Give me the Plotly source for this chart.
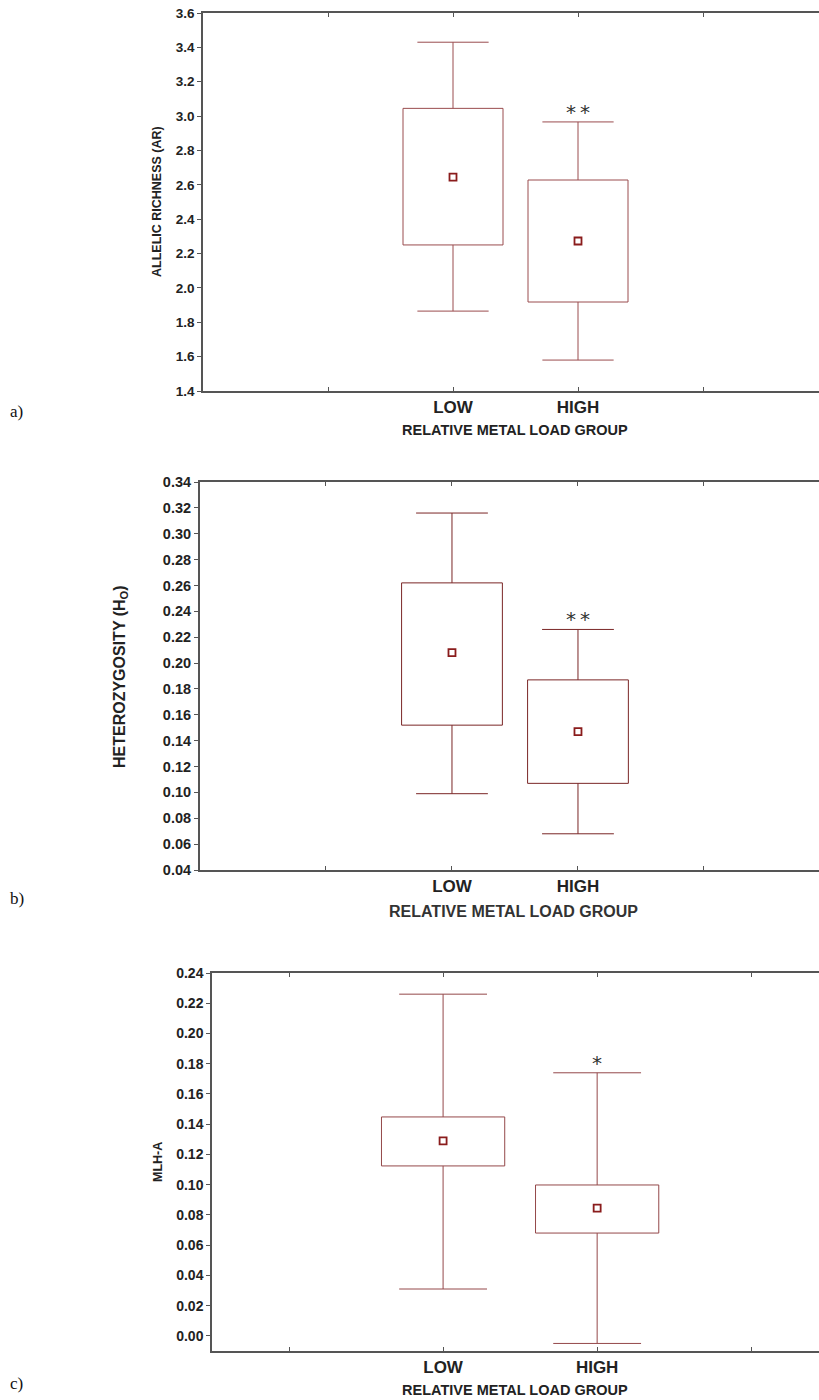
import plotly.graph_objects as go

# ---------------- data ----------------
groups = ["LOW", "HIGH"]
group_pos = [1, 2]

# panel a: allelic richness
ar_lower = [1.865, 1.580]
ar_q1 = [2.250, 1.918]
ar_mean = [2.645, 2.273]
ar_q3 = [3.045, 2.628]
ar_upper = [3.430, 2.966]

# panel b: heterozygosity
ho_lower = [0.099, 0.068]
ho_q1 = [0.152, 0.107]
ho_mean = [0.208, 0.147]
ho_q3 = [0.262, 0.187]
ho_upper = [0.316, 0.226]

# panel c: MLH-A
mlh_lower = [0.031, -0.005]
mlh_q1 = [0.1124, 0.068]
mlh_mean = [0.129, 0.0845]
mlh_q3 = [0.1448, 0.0998]
mlh_upper = [0.226, 0.174]

sig_a = ["", "*\u2009*"]
sig_b = ["", "*\u2009*"]
sig_c = ["", "*"]

ar_ticks = [1.4, 1.6, 1.8, 2.0, 2.2, 2.4, 2.6, 2.8, 3.0, 3.2, 3.4, 3.6]
ho_ticks = [0.04, 0.06, 0.08, 0.10, 0.12, 0.14, 0.16, 0.18, 0.20, 0.22, 0.24,
            0.26, 0.28, 0.30, 0.32, 0.34]
mlh_ticks = [0.00, 0.02, 0.04, 0.06, 0.08, 0.10, 0.12, 0.14, 0.16, 0.18, 0.20,
             0.22, 0.24]

W, H = 819, 1400
BOX_A = "#9a4c4e"
BOX_B = "#7a2626"
BOX_C = "#94484a"
MEAN_C = "#8a1c1c"
AXIS_C = "#555555"
FONT = "Liberation Sans, Arial, sans-serif"
BOX_W = 0.8
CAP_HALF = 0.285

fig = go.Figure()

panels = [
    dict(lo=ar_lower, q1=ar_q1, m=ar_mean, q3=ar_q3, up=ar_upper, sig=sig_a,
         col=BOX_A, xa="x", ya="y"),
    dict(lo=ho_lower, q1=ho_q1, m=ho_mean, q3=ho_q3, up=ho_upper, sig=sig_b,
         col=BOX_B, xa="x2", ya="y2"),
    dict(lo=mlh_lower, q1=mlh_q1, m=mlh_mean, q3=mlh_q3, up=mlh_upper, sig=sig_c,
         col=BOX_C, xa="x3", ya="y3"),
]

for p in panels:
    # whiskers + caps
    wx, wy = [], []
    for g, lo, q1, q3, up in zip(group_pos, p["lo"], p["q1"], p["q3"], p["up"]):
        wx += [g, g, None, g - CAP_HALF, g + CAP_HALF, None,
               g, g, None, g - CAP_HALF, g + CAP_HALF, None]
        wy += [q1, lo, None, lo, lo, None, q3, up, None, up, up, None]
    fig.add_trace(go.Scatter(
        x=wx, y=wy, mode="lines", line=dict(color=p["col"], width=1),
        xaxis=p["xa"], yaxis=p["ya"], showlegend=False, hoverinfo="skip"))
    # boxes
    fig.add_trace(go.Bar(
        x=group_pos, y=[b - a for a, b in zip(p["q1"], p["q3"])], base=p["q1"],
        width=BOX_W, marker=dict(color="white", line=dict(color=p["col"], width=1)),
        xaxis=p["xa"], yaxis=p["ya"], showlegend=False, hoverinfo="skip"))
    # means
    fig.add_trace(go.Scatter(
        x=group_pos, y=p["m"], mode="markers",
        marker=dict(symbol="square", size=7, color="white",
                    line=dict(color=MEAN_C, width=1.8)),
        xaxis=p["xa"], yaxis=p["ya"], showlegend=False, hoverinfo="skip"))
    for xv, yv, s in zip(group_pos, p["up"], p["sig"]):
        if s:
            fig.add_annotation(x=xv, y=yv, xref=p["xa"], yref=p["ya"], text=s,
                               showarrow=False, yanchor="bottom", yshift=-4,
                               font=dict(family="DejaVu Sans", size=20, color="#333333"))


def px_y(v):
    return 1 - v / H


def xaxis(dom_left, rng, tickfont_size, linew, anchor):
    return dict(domain=[dom_left / W, 1], range=rng, showgrid=False, zeroline=False,
                showline=True, linecolor=AXIS_C, linewidth=linew, mirror="ticks",
                ticks="inside", ticklen=4, tickcolor=AXIS_C, tickwidth=1,
                tickvals=group_pos, ticktext=["<b>" + g + "</b>" for g in groups],
                minor=dict(ticks="inside", tick0=0, dtick=1, ticklen=4,
                           tickcolor=AXIS_C, tickwidth=1, showgrid=False),
                tickfont=dict(family=FONT, size=tickfont_size, color="#222222"),
                anchor=anchor)


def yaxis(top, bottom, rng, vals, fmt, size, linew, anchor):
    return dict(domain=[px_y(bottom), px_y(top)], range=rng, showgrid=False,
                zeroline=False, showline=True, linecolor=AXIS_C, linewidth=linew,
                ticks="outside", ticklen=4, tickcolor=AXIS_C, tickwidth=1,
                tickvals=vals, ticktext=["<b>" + format(v, fmt) + "</b>" for v in vals],
                tickfont=dict(family=FONT, size=size, color="#222222"), anchor=anchor)


fig.update_layout(
    width=W, height=H, margin=dict(l=0, r=0, t=0, b=0, autoexpand=False),
    paper_bgcolor="white", plot_bgcolor="white", barmode="overlay",
    xaxis=xaxis(203, [-1, 3.928], 17, 1.5, "y"),
    yaxis=yaxis(13, 391, [1.4, 3.6], ar_ticks, ".1f", 13.5, 1.5, "x"),
    xaxis2=xaxis(200, [-1, 3.913], 17, 1.5, "y2"),
    yaxis2=yaxis(482, 870, [0.04, 0.34], ho_ticks, ".2f", 14.5, 2, "x2"),
    xaxis3=xaxis(212, [-0.5, 3.44], 17, 1.5, "y3"),
    yaxis3=yaxis(973, 1351, [-0.01, 0.24], mlh_ticks, ".2f", 14, 1.5, "x3"),
)

# axis titles
titles = [
    ("<b>RELATIVE METAL LOAD GROUP</b>", 515, 430, 14.5, "#222222", 0),
    ("<b>RELATIVE METAL LOAD GROUP</b>", 513, 911, 16, "#333333", 0),
    ("<b>RELATIVE METAL LOAD GROUP</b>", 515, 1390, 14.5, "#222222", 0),
    ("<b>ALLELIC RICHNESS (AR)</b>", 157, 202, 12.5, "#222222", -90),
    ("<b>HETEROZYGOSITY (H<sub>O</sub>)</b>", 120, 677, 16, "#222222", -90),
    ("<b>MLH-A</b>", 158, 1162, 12.5, "#222222", -90),
]
for txt, xp, yp, sz, col, ang in titles:
    fig.add_annotation(x=xp / W, y=px_y(yp), xref="paper", yref="paper", text=txt,
                       showarrow=False, textangle=ang, xanchor="center", yanchor="middle",
                       font=dict(family=FONT, size=sz, color=col))

for lab, yp in [("a)", 412), ("b)", 898), ("c)", 1383)]:
    fig.add_annotation(x=8 / W, y=px_y(yp), xref="paper", yref="paper", text=lab,
                       showarrow=False, xanchor="left", yanchor="middle",
                       font=dict(family="Liberation Serif, Times New Roman, serif",
                                 size=17, color="#111111"))

fig.write_html("out.html", config={"displayModeBar": False},
               post_script="document.body.style.margin='0';")
